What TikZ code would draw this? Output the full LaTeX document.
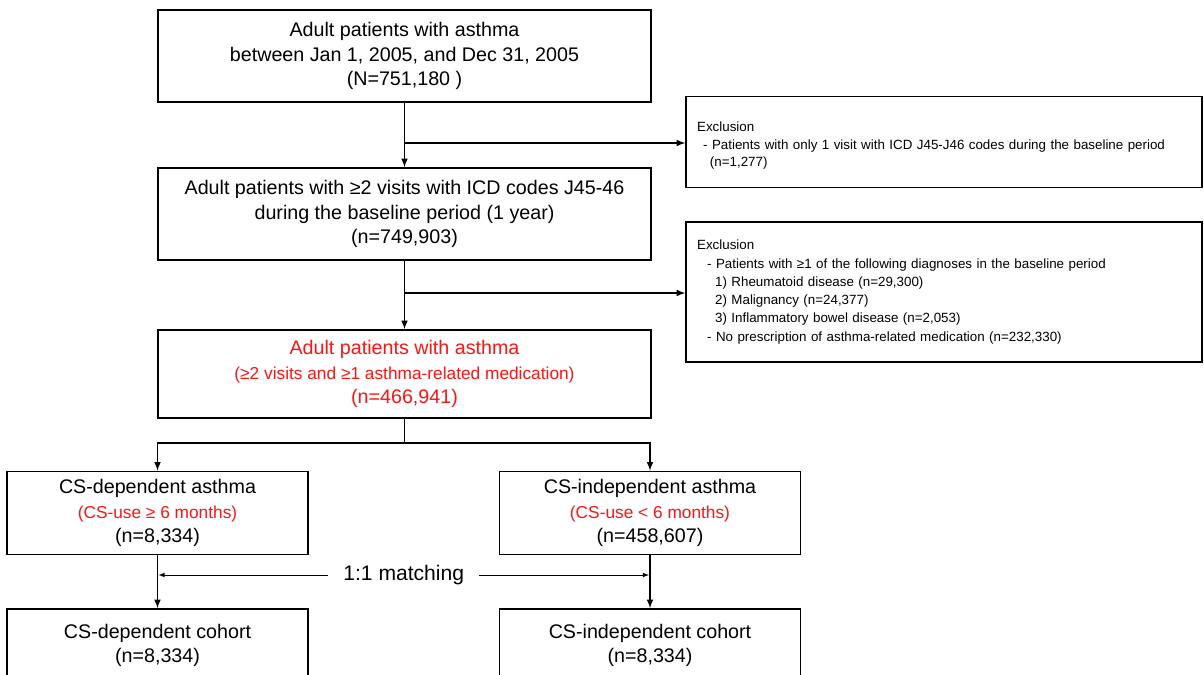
\documentclass[tikz,border=0pt]{standalone}
\usepackage{fontspec}
\setmainfont{Liberation Sans}
\usetikzlibrary{shapes,arrows,positioning}
\definecolor{SubRed}{RGB}{255, 20, 20}

\begin{document}
\begin{tikzpicture}[
    x=0.025cm, y=-0.025cm,
    box/.style={draw, rectangle, line width=1.1pt, minimum width=12.33cm, minimum height=2.3cm, align=center, font=\fontsize{14}{17.2}\selectfont, inner sep=0pt},
    exbox/.style={draw, rectangle, line width=0.9pt, minimum width=12.9cm, minimum height=2.275cm, text width=12.34cm, align=left, font=\fontsize{9.5}{12.2}\selectfont, inner sep=0pt},
    armbox/.style={box, minimum width=7.52cm, minimum height=2.075cm},
    arrow/.style={-latex, line width=1.1pt},
    line/.style={line width=1.1pt}
  ]
    \clip (0,0) rectangle (1204,675);
    \fill[white] (0,0) rectangle (1204,675);

    % Main flow
    \node[box] (start) at (404.5,56) {Adult patients with asthma\\between Jan 1, 2005, and Dec 31, 2005\\(N=751,180 )};
    \node[box] (visits) at (404.5,214) {Adult patients with ≥2 visits with ICD codes J45-46\\during the baseline period (1 year)\\(n=749,903)};
    \node[box, minimum height=2.2cm, text=SubRed] (asthma) at (404.5,374) {Adult patients with asthma\\{\fontsize{12.3}{17.2}\selectfont (≥2 visits and ≥1 asthma-related medication)}\\(n=466,941)};

    % Exclusions
    \node[exbox] (excl1) at (944,142) {\rule{0pt}{0.42cm}Exclusion\\\hspace{0.15cm}- Patients with only 1 visit with ICD J45-J46 codes during the baseline period\\\hspace{0.32cm}(n=1,277)};
    \node[exbox, minimum height=3.5cm, font=\fontsize{9.5}{13}\selectfont] (excl2) at (944,292) {Exclusion\\\hspace{0.25cm}- Patients with ≥1 of the following diagnoses in the baseline period\\\hspace{0.45cm}1) Rheumatoid disease (n=29,300)\\\hspace{0.45cm}2) Malignancy (n=24,377)\\\hspace{0.45cm}3) Inflammatory bowel disease (n=2,053)\\\hspace{0.25cm}- No prescription of asthma-related medication (n=232,330)};

    \draw[arrow] (start) -- (visits);
    \draw[arrow] (visits) -- (asthma);
    \coordinate (j1) at (404.5,143);
    \coordinate (j2) at (404.5,293);
    \draw[arrow] (j1) -- (excl1.west |- j1);
    \draw[arrow] (j2) -- (excl2.west |- j2);

    % CS use groups
    \node[armbox] (csdep) at (157.5,513) {CS-dependent asthma\\{\fontsize{12.3}{17.2}\selectfont\color{SubRed}(CS-use ≥ 6 months)}\\(n=8,334)};
    \node[armbox] (csind) at (650,513) {CS-independent asthma\\{\fontsize{12.3}{17.2}\selectfont\color{SubRed}(CS-use < 6 months)}\\(n=458,607)};

    \coordinate (split) at (404.5,443);
    \draw[line] (asthma) -- (split);
    \draw[arrow] (split) -| (csdep.north);
    \draw[arrow] (split) -| (csind.north);

    % Matched cohorts
    \node[armbox, minimum height=1.8cm] (cohdep) at (157.5,645) {CS-dependent cohort\\(n=8,334)};
    \node[armbox, minimum height=1.8cm] (cohind) at (650,645) {CS-independent cohort\\(n=8,334)};

    \draw[arrow] (csdep) -- (cohdep);
    \draw[arrow] (csind) -- (cohind);

    \coordinate (matchL) at (158.5,575);
    \coordinate (matchR) at (649,575);
    \draw[latex-latex, line width=0.5pt] (matchL) -- node[fill=white, inner xsep=0.38cm, font=\fontsize{15}{17}\selectfont] (match) {1:1 matching} (matchR);
  \end{tikzpicture}
\end{document}
